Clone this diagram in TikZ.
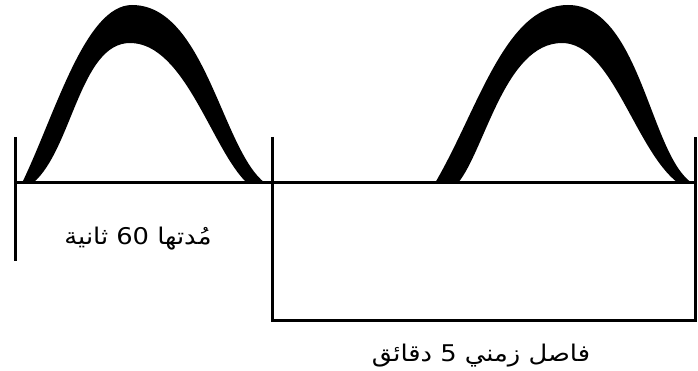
\documentclass[tikz,border=0pt]{standalone}
\usepackage{fontspec}
\newfontfamily\arabicfont[Script=Arabic,FakeStretch=1.12]{DejaVu Sans}
\TeXXeTstate=1
\begin{document}
\begin{tikzpicture}[x=1pt,y=-1pt,
  rule/.style={draw=black,line width=3pt},
  bump/.style={fill=black,draw=none},
  lbl/.style={font=\arabicfont\fontsize{23}{26}\selectfont,inner sep=0pt,anchor=base}]
\useasboundingbox (0,0) rectangle (698,371);
% coordinates
\coordinate (L0) at (15,137);
\coordinate (L1) at (15,261);
\coordinate (M0) at (272,137);
\coordinate (M1) at (272,320);
\coordinate (R0) at (695,137);
\coordinate (R1) at (695,320);
\coordinate (B0) at (15,183);
\coordinate (B1) at (695,183);
% bumps
\fill[bump] (22,183) .. controls (55,115) and (85,5) .. (132,5)
  .. controls (205,5) and (222,150) .. (265,183)
  -- (247,183) .. controls (212,150) and (185,43) .. (130,43)
  .. controls (80,43) and (72,150) .. (33,183) -- cycle;
\fill[bump] (435,183) .. controls (478,110) and (505,5) .. (568,5)
  .. controls (640,5) and (650,155) .. (692,183)
  -- (678,183) .. controls (635,150) and (612,43) .. (562,43)
  .. controls (505,43) and (485,150) .. (458,183) -- cycle;
% rules
\draw[rule] (L0) -- (L1);
\draw[rule] (B0) -- (B1);
\draw[rule] (M0) -- (M1) -- (R1) -- (R0);
% labels
\node[lbl] (d60) at (138,244) {\beginR مُدتها \beginL60\endL{} ثانية\endR};
\node[lbl] (d5) at (481,361) {\beginR فاصل زمني \beginL5\endL{} دقائق\endR};
\end{tikzpicture}
\end{document}
